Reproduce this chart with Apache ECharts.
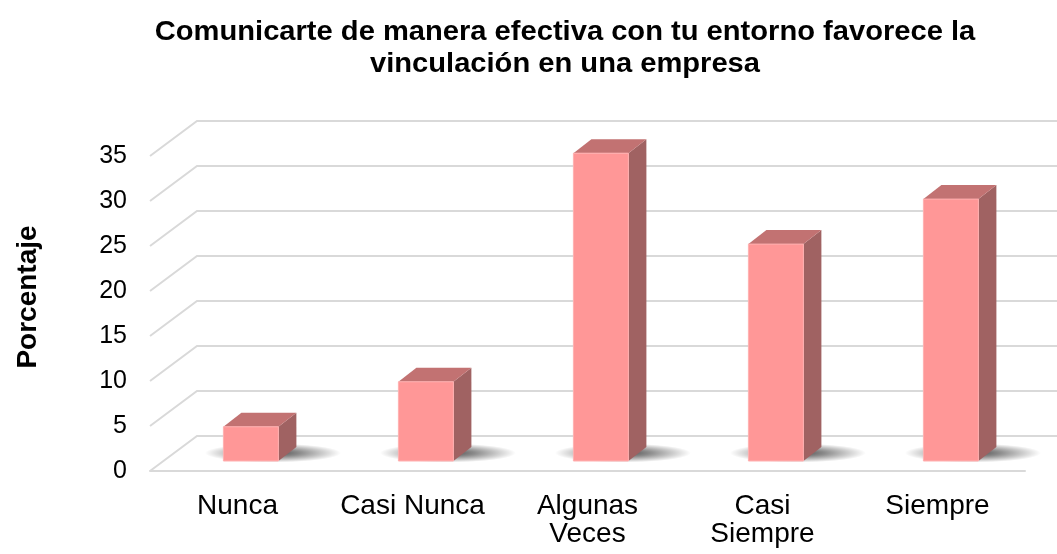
<!DOCTYPE html>
<html>
<head>
<meta charset="utf-8">
<script src="https://cdn.jsdelivr.net/npm/echarts@6/dist/echarts.min.js"></script>
<style>
  html, body { margin: 0; padding: 0; background: #fff; }
  #chart { width: 1057px; height: 554px; }
</style>
</head>
<body>
<div id="chart"></div>
<script>
// data
const categories = ['Nunca', 'Casi Nunca', 'Algunas\nVeces', 'Casi\nSiempre', 'Siempre']
const values = [3.8, 8.8, 34.2, 24.1, 29.1]
const yTicks = [0, 5, 10, 15, 20, 25, 30, 35]

const titleText = 'Comunicarte de manera efectiva con tu entorno favorece la\nvinculación en una empresa'
const yName = 'Porcentaje'

// oblique "3D" offsets (px)
const WALL_DX = 47, WALL_DY = -35     // front plane -> back wall
const BAR_DX = 13.4, BAR_DY = -10     // front plane -> bar front face
const BAR_W = 55, BAR_DEPTH_X = 18, BAR_DEPTH_Y = -14

const FONT = 'Liberation Sans, Arial, sans-serif'

const chart = echarts.init(document.getElementById('chart'), null, { renderer: 'canvas' })

const renderWall = (params, api) => {
  const cs = params.coordSys
  const y = api.coord([0, api.value(1)])[1]
  const x0 = cs.x
  const xr = cs.x + cs.width + WALL_DX + 60
  return {
    type: 'polyline',
    shape: { points: [[x0, y], [x0 + WALL_DX, y + WALL_DY], [xr, y + WALL_DY]] },
    style: { stroke: '#d9d9d9', lineWidth: 2, fill: null },
    silent: true,
  }
}

const renderShadow = (params, api) => {
  const p = api.coord([api.value(0), 0])
  const cx = p[0] + BAR_DX + 22
  const cy = p[1] + BAR_DY - 8
  return {
    type: 'circle',
    x: cx,
    y: cy,
    scaleY: 0.14,
    shape: { cx: 0, cy: 0, r: 68 },
    style: {
      fill: {
        type: 'radial', x: 0.5, y: 0.5, r: 0.5,
        colorStops: [
          { offset: 0, color: 'rgba(0,0,0,0.7)' },
          { offset: 0.4, color: 'rgba(0,0,0,0.45)' },
          { offset: 1, color: 'rgba(0,0,0,0)' },
        ],
      },
    },
    silent: true,
  }
}

const renderBar = (params, api) => {
  const top = api.coord([api.value(0), api.value(1)])
  const base = api.coord([api.value(0), 0])
  const x0 = top[0] + BAR_DX - BAR_W / 2
  const x1 = x0 + BAR_W
  const yt = top[1] + BAR_DY
  const yb = base[1] + BAR_DY
  const dx = BAR_DEPTH_X, dy = BAR_DEPTH_Y
  return {
    type: 'group',
    children: [
      {
        type: 'polygon',
        shape: { points: [[x1, yt], [x1 + dx, yt + dy], [x1 + dx, yb + dy], [x1, yb]] },
        style: { fill: '#a06262' },
      },
      {
        type: 'polygon',
        shape: { points: [[x0, yt], [x1, yt], [x1 + dx, yt + dy], [x0 + dx, yt + dy]] },
        style: { fill: '#c27272' },
      },
      {
        type: 'rect',
        shape: { x: x0, y: yt, width: BAR_W, height: yb - yt },
        style: { fill: '#ff9797', stroke: '#ffb0b0', lineWidth: 1 },
      },
    ],
  }
}

chart.setOption({
  backgroundColor: '#fff',
  animation: false,
  grid: { left: 150, right: 32, top: 156, bottom: 83 },
  graphic: [
    {
      type: 'text',
      x: 565,
      y: 48,
      scaleX: 1.04,
      style: {
        text: titleText,
        font: 'bold 28px ' + FONT,
        fill: '#000',
        textAlign: 'center',
        textVerticalAlign: 'middle',
        lineHeight: 32,
      },
    },
    {
      type: 'text',
      x: 28,
      y: 297,
      rotation: Math.PI / 2,
      style: {
        text: yName,
        font: 'bold 28px ' + FONT,
        fill: '#000',
        textAlign: 'center',
        textVerticalAlign: 'middle',
      },
    },
  ],
  xAxis: {
    type: 'category',
    data: categories,
    axisLine: { lineStyle: { color: '#d9d9d9', width: 2 } },
    axisTick: { show: false },
    axisLabel: {
      color: '#000',
      fontSize: 28,
      fontFamily: FONT,
      margin: 21,
      lineHeight: 28,
      interval: 0,
    },
  },
  yAxis: {
    type: 'value',
    min: 0,
    max: 35,
    interval: 5,
    axisLine: { show: false },
    axisTick: { show: false },
    splitLine: { show: false },
    axisLabel: {
      color: '#000',
      fontSize: 25,
      fontFamily: FONT,
      margin: 23,
    },
  },
  series: [
    {
      type: 'custom',
      renderItem: renderWall,
      data: yTicks.map((v) => [0, v]),
      clip: false,
      z: 1,
    },
    {
      type: 'custom',
      renderItem: renderShadow,
      data: values.map((v, i) => [i, v]),
      z: 2,
    },
    {
      type: 'custom',
      renderItem: renderBar,
      data: values.map((v, i) => [i, v]),
      z: 3,
    },
  ],
})
</script>
</body>
</html>
